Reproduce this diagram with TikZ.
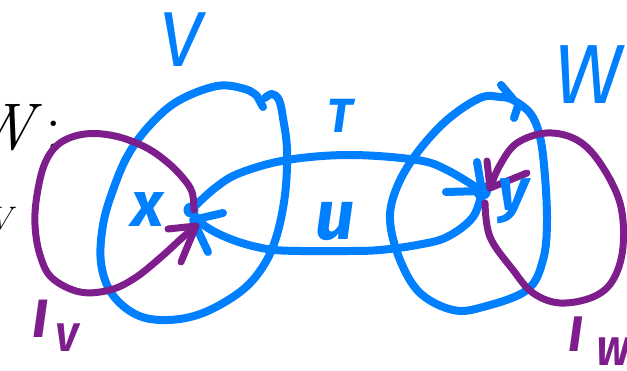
\documentclass[tikz,border=0pt]{standalone}
\usepackage{fontspec}
\newfontfamily\hand{Fira Sans}
\definecolor{pen}{RGB}{0,128,255}
\definecolor{ink}{RGB}{125,30,140}
\begin{document}
\begin{tikzpicture}[x=1pt,y=-1pt,
  blueline/.style={draw=pen,line width=8pt,line cap=round,line join=round},
  purpleline/.style={draw=ink,line width=7pt,line cap=round,line join=round},
  handlbl/.style={inner sep=0pt,font=\hand\bfseries\itshape\fontsize{#1}{#1}\selectfont},
  thinlbl/.style={inner sep=0pt,font=\hand\itshape\fontsize{#1}{#1}\selectfont},
  blacklbl/.style={inner sep=0pt,anchor=base east,font=\itshape\fontsize{#1}{#1}\selectfont}]
\useasboundingbox (0,0) rectangle (627,371);

% black text (cut at the left edge)
\node[blacklbl=66] (lblWcolon) at (62,150) {W\upshape\,:};
\node[blacklbl=34] (lblVleft) at (12,231) {V};

% points
\coordinate (px) at (191,210);
\coordinate (py) at (482,191);

% blob V
\draw[blueline] plot[smooth,tension=0.6] coordinates {(265,98) (272,94) (279,100) (283,118) (287,150) (285,195) (276,238) (262,268) (240,292) (203,313) (168,320) (137,315) (112,294) (101,263) (103,225) (113,190) (128,155) (150,125) (178,101) (217,86) (245,89) (257,96)} -- (263,107);

% blob W
\draw[blueline] plot[smooth cycle,tension=0.6] coordinates {(500,97) (513,100) (530,113) (539,133) (544,165) (547,220) (543,260) (527,290) (483,307) (453,310) (420,293) (400,260) (390,220) (397,187) (417,153) (447,120) (480,98)};
\draw[blueline] (501,85) -- (513,99);
\draw[blueline] (514,118) -- (518,106);

% ellipse U: upper arc x -> y, lower arc y -> x
\draw[blueline] plot[smooth,tension=0.6] coordinates {(px) (215,188) (240,173) (287,160) (350,155) (417,160) (447,170) (py)};
\draw[blueline] plot[smooth,tension=0.6] coordinates {(py) (473,217) (447,237) (417,245) (380,250) (350,251) (300,251) (267,249) (233,240) (205,226) (px)};
% arrowheads
\draw[blueline] (446,192) -- (py) -- (477,162);
\draw[blueline] (223,213) -- (193,220) -- (208,252);

% dots
\fill[pen] (px) circle (7.5pt);
\fill[pen] (py) circle (9pt);

% purple loop I_V
\draw[purpleline] plot[smooth,tension=0.6] coordinates {(194,210) (192,192) (183,178) (167,162) (145,147) (115,136) (85,134) (60,143) (45,163) (37,195) (35,225) (40,255) (52,278) (80,292) (110,290) (135,278) (160,258) (182,238) (196,226)};
\draw[purpleline] (168,229) -- (196,226) -- (181,262);

% purple loop I_W
\draw[purpleline] plot[smooth,tension=0.6] coordinates {(485,203) (490,237) (513,270) (533,293) (560,303) (593,297) (613,280) (623,247) (620,203) (600,163) (577,140) (547,133) (517,143) (500,165) (490,188)};
\draw[purpleline] (487,161) -- (490,188) -- (527,173);

% handwritten labels
\node[thinlbl=78,text=pen] (lblV) at (181,40) {V};
\node[handlbl=48,text=pen] (lblT) at (340,116) {T};
\node[thinlbl=84,text=pen] (lblW) at (588,75) {W};
\node[handlbl=64,text=pen] (lblx) at (148,210) {x};
\node[handlbl=70,text=pen] (lblu) at (335,222) {u};
\node[handlbl=60,text=pen] (lbly) at (514,201) {y};
\node[handlbl=54,text=ink,anchor=base west] (lblIV) at (32,338) {I\kern8pt\raisebox{-14pt}{\fontsize{40}{40}\selectfont V}};
\node[handlbl=50,text=ink,anchor=base west] (lblIW) at (568,352) {I\kern14pt\raisebox{-14pt}{\fontsize{40}{40}\selectfont W}};
\end{tikzpicture}
\end{document}
